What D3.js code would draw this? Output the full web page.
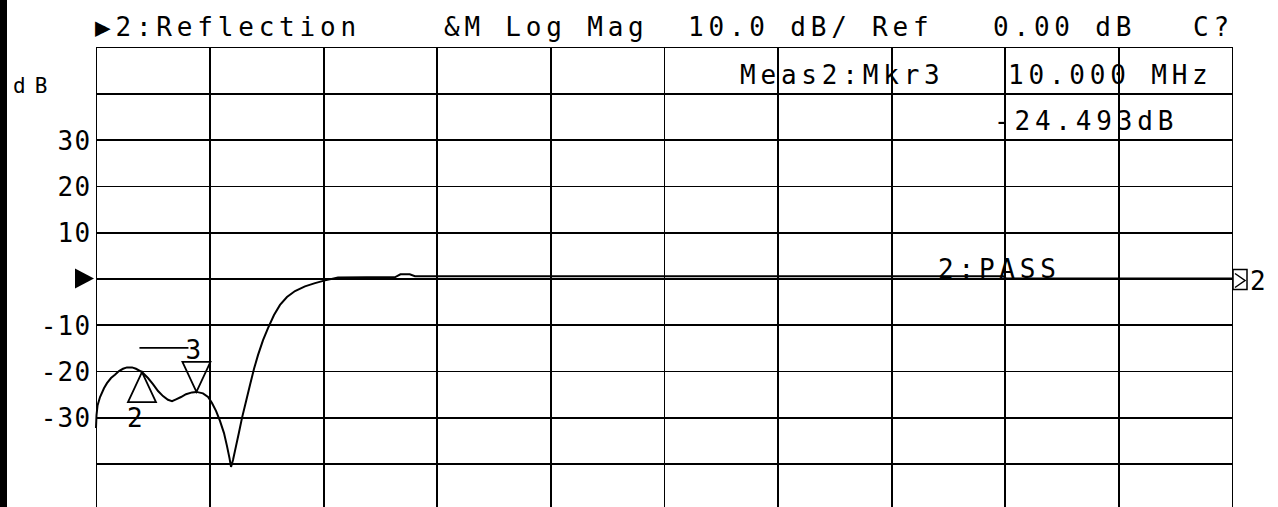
<!DOCTYPE html>
<html>
<head>
<meta charset="utf-8">
<script src="https://cdn.jsdelivr.net/npm/d3@7"></script>
<style>
    body { margin: 0; background: #fff; overflow: hidden; }
    #chart { width: 1278px; height: 507px; }
    .grid line { stroke: #000; stroke-width: 1.6; shape-rendering: crispEdges; }
    .grid path { display: none; }
    text { font-family: "DejaVu Sans Mono", monospace; fill: #000; }
    .lbl { font-size: 26px; letter-spacing: 4.8px; }
    .tick-lbl { font-size: 26px; letter-spacing: 1.3px; }
</style>
</head>
<body>
<div id="chart"></div>
<script>
// trace 2 (reflection): frequency in MHz, magnitude in dB
const freqMHz = [0.3, 0.35, 0.45, 0.69, 1.07, 1.36, 1.75, 2.13, 2.52, 2.91, 3.29, 3.78, 4.16, 4.74,
    5.32, 5.80, 6.29, 6.77, 7.25, 7.64, 8.03, 8.51, 8.99, 9.57, 10.0, 10.63, 11.12, 11.5, 11.89,
    12.28, 12.66, 12.95, 13.19, 13.34, 13.53, 13.82, 14.11, 14.40, 14.79, 15.17, 15.56, 15.95,
    16.43, 16.91, 17.49, 18.07, 18.74, 19.52, 20.48, 21.45, 22.42, 23.67, 29.2, 29.7, 30.6, 31.1,
    87.9, 88.2, 110];
const magDb = [-32.3, -29.5, -27.4, -25.6, -23.7, -22.6, -21.5, -20.8, -20.0, -19.5, -19.2, -19.2, -19.5, -20.2,
    -21.5, -22.8, -24.3, -25.4, -26.2, -26.5, -26.1, -25.6, -25.0, -24.6, -24.49, -24.8, -25.6, -26.9, -28.6,
    -30.8, -33.4, -36.2, -38.8, -40.7, -39.2, -36.2, -33.2, -30.1, -26.5, -23.0, -19.5, -16.5,
    -13.3, -10.7, -7.9, -5.7, -4.0, -2.7, -1.7, -1.0, -0.4, 0.2, 0.3, 0.9, 0.9, 0.5,
    0.5, 0.0, 0.0];

// axis setup
const freqStart = 0.3, freqStop = 110;
const refDb = 0, dbPerDiv = 10;
const yTickValues = [30, 20, 10, -10, -20, -30];

// markers
const markerIds = ["2", "3"];
const markerFreq = [4.74, 10.0];
const markerDb = [-20.2, -24.493];

// screen annotations
const headerTexts = ["\u25B62:Reflection", "&M Log Mag", "10.0 dB/ Ref", "0.00 dB", "C?"];
const readoutTexts = ["Meas2:Mkr3", "10.000 MHz", "-24.493dB"];
const limitText = "2:PASS";

class ReflectionVis {

    constructor(parentElement) {
        this.parentElement = parentElement;
        this.data = freqMHz.map((f, i) => ({f: f, db: magDb[i]}));
        this.markers = markerIds.map((id, i) => ({id: id, f: markerFreq[i], db: markerDb[i]}));
        this.initVis();
    }

    initVis() {
        let vis = this;

        vis.width = 1278;
        vis.height = 507;
        vis.plot = {left: 96, right: 1232, top: 47};
        vis.divH = 46.3;

        vis.svg = d3.select("#" + vis.parentElement).append("svg")
            .attr("width", vis.width)
            .attr("height", vis.height);

        // black strip on the left edge of the screen
        vis.svg.append("rect")
            .attr("x", 0).attr("y", 0)
            .attr("width", 7).attr("height", vis.height)
            .attr("fill", "#000");

        vis.x = d3.scaleLinear()
            .domain([freqStart, freqStop])
            .range([vis.plot.left, vis.plot.right]);

        vis.y = d3.scaleLinear()
            .domain([refDb + 5 * dbPerDiv, refDb - 5 * dbPerDiv])
            .range([vis.plot.top, vis.plot.top + 10 * vis.divH]);

        vis.drawText();
        vis.drawGrid();
        vis.updateVis();
    }

    drawText() {
        let vis = this;

        // header line
        let headerX = [95, 444, 688, 993, 1193];
        vis.svg.selectAll(".header")
            .data(headerTexts)
            .enter()
            .append("text")
            .attr("class", "header lbl")
            .attr("x", (d, i) => headerX[i])
            .attr("y", 36)
            .text(d => d);

        // marker readout
        let readX = [740, 1008, 994];
        let readY = [84, 84, 130];
        vis.svg.selectAll(".readout")
            .data(readoutTexts)
            .enter()
            .append("text")
            .attr("class", "readout lbl")
            .attr("x", (d, i) => readX[i])
            .attr("y", (d, i) => readY[i])
            .text(d => d);

        // y unit
        vis.svg.append("text")
            .attr("x", 13)
            .attr("y", 93)
            .style("font-size", "21px")
            .style("letter-spacing", "9px")
            .text("dB");

        // tick labels
        vis.svg.selectAll(".tick-lbl")
            .data(yTickValues)
            .enter()
            .append("text")
            .attr("class", "tick-lbl")
            .attr("x", 91.5)
            .attr("y", d => vis.y(d) + 10)
            .attr("text-anchor", "end")
            .text(d => d < 0 ? "-" + Math.abs(d) : d);

        // reference position arrow
        let ry = vis.y(refDb);
        vis.svg.append("path")
            .attr("d", `M75,${ry - 10} L94,${ry} L75,${ry + 10} Z`)
            .attr("fill", "#000");

        // limit test result
        vis.svg.append("text")
            .attr("class", "lbl")
            .attr("x", 938)
            .attr("y", ry - 1)
            .text(limitText);
    }

    drawGrid() {
        let vis = this;

        let xGridVals = d3.range(11).map(i => freqStart + i * (freqStop - freqStart) / 10);
        let yGridVals = d3.range(5, -6, -1).map(i => refDb + i * dbPerDiv);

        vis.svg.append("g")
            .attr("class", "grid")
            .attr("transform", `translate(0, ${vis.plot.top})`)
            .call(d3.axisBottom(vis.x)
                .tickValues(xGridVals)
                .tickSize(10 * vis.divH)
                .tickFormat(""));

        vis.svg.append("g")
            .attr("class", "grid")
            .attr("transform", `translate(${vis.plot.left}, 0)`)
            .call(d3.axisRight(vis.y)
                .tickValues(yGridVals)
                .tickSize(vis.plot.right - vis.plot.left)
                .tickFormat(""));
    }

    updateVis() {
        let vis = this;

        vis.line = d3.line()
            .x(d => vis.x(d.f))
            .y(d => vis.y(d.db));

        vis.svg.append("path")
            .datum(vis.data)
            .attr("d", vis.line)
            .attr("fill", "none")
            .attr("stroke", "#000")
            .attr("stroke-width", 2);

        // marker triangles: 2 points up from below, 3 (active) points down from above
        vis.markers.forEach(m => {
            let mx = vis.x(m.f), my = vis.y(m.db);
            let dir = m.id === "3" ? -1 : 1;
            vis.svg.append("path")
                .attr("d", `M${mx},${my} L${mx - 14},${my + dir * 30} L${mx + 14},${my + dir * 30} Z`)
                .attr("fill", "none")
                .attr("stroke", "#000")
                .attr("stroke-width", 1.8);

            if (m.id === "3") {
                vis.svg.append("line")
                    .attr("x1", mx - 57).attr("x2", mx - 8)
                    .attr("y1", my - 44).attr("y2", my - 44)
                    .attr("stroke", "#000")
                    .attr("stroke-width", 1.6);
                vis.svg.append("text")
                    .attr("x", mx - 11)
                    .attr("y", my - 33)
                    .style("font-size", "26px")
                    .text(m.id);
            } else {
                vis.svg.append("text")
                    .attr("x", mx - 15)
                    .attr("y", my + 55)
                    .style("font-size", "26px")
                    .text(m.id);
            }
        });

        // trace 2 reference marker at the right edge
        let ry = vis.y(refDb);
        vis.svg.append("rect")
            .attr("x", 1233).attr("y", ry - 9)
            .attr("width", 14).attr("height", 20)
            .attr("fill", "#fff")
            .attr("stroke", "#000")
            .attr("stroke-width", 1.5);
        vis.svg.append("path")
            .attr("d", `M1235,${ry - 5} L1245,${ry + 2} L1235,${ry + 9}`)
            .attr("fill", "none")
            .attr("stroke", "#000")
            .attr("stroke-width", 1.5);
        vis.svg.append("text")
            .attr("x", 1250)
            .attr("y", ry + 11)
            .style("font-size", "26px")
            .text("2");
    }
}

new ReflectionVis("chart");
</script>
</body>
</html>
